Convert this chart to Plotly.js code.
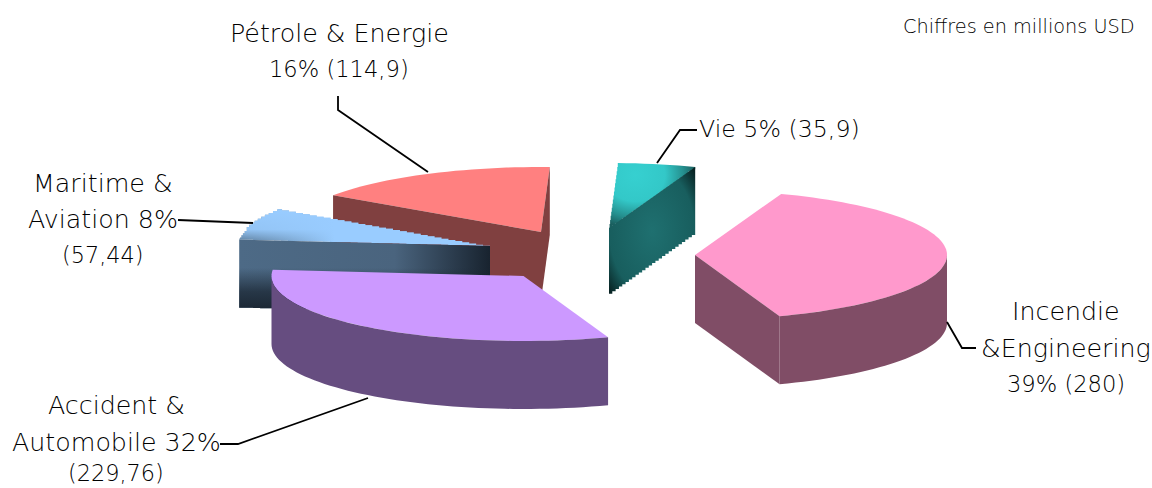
<!DOCTYPE html>
<html><head><meta charset="utf-8">
<script src="https://cdn.plot.ly/plotly-3.0.1.min.js"></script>
<style>html,body{margin:0;padding:0;background:#fff}</style></head>
<body><div id="chart" style="width:1152px;height:488px"></div>
<script>
// ---- data ----
const categories = ["Vie", "Pétrole & Energie", "Maritime & Aviation", "Accident & Automobile", "Incendie & Engineering"];
const values = [35.9, 114.9, 57.44, 229.76, 280];
const labelLines = [
  ["Vie 5% (35,9)"],
  ["Pétrole & Energie", "16% (114,9)"],
  ["Maritime &", "Aviation 8%", "(57,44)"],
  ["Accident &", "Automobile 32%", "(229,76)"],
  ["Incendie", "&Engineering", "39% (280)"]
];
const noteText = "Chiffres en millions USD";

// ---- geometry of the 3D projection (pixel space of the hidden axes) ----
const firstAngle = 70, rx = 252, ry = 65, depth = 68;
const apexX = [609, 541, 490, 523.5, 695];
const apexY = [228, 232, 246, 276, 255];
const labelX = [779.5, 339, 103, 116, 1066];
const labelY = [[129], [33, 69], [183, 219, 255], [405, 442, 473], [311, 348, 384]];
const labelSize = [[23.7], [25.3, 22.6], [25.3, 25.3, 22.4], [25.3, 25.3, 22.4], [25.3, 25.3, 22.6]];
const leaderX = [[657, 680, 697], [338, 338, 428], [178, 253], [220, 238, 368], [947, 962, 976]];
const leaderY = [[163, 130, 130], [96, 110, 172], [220, 223], [444, 444, 398], [322, 348, 348]];
const drawOrder = [1, 2, 3, 0, 4];

// ---- styles ----
const topColor = ["#33cccc", "#ff8080", "#99ccff", "#cc99ff", "#ff99cc"];
const sideColor = ["#1b6b6b", "#804040", "#4d6680", "#664d80", "#804d66"];
const stairStep = [4, 0, 7, 0, 0];
const cyanTopScale = [[0, "#36d0d0"], [0.5, "#33c8c8"], [0.8, "#25908f"], [1, "#1a5f5f"]];
const cyanSideScale = [[0, "#1f7070"], [0.7, "#185e5e"], [1, "#051a1a"]];
const blueSideScale = [[0, "#4d6a86"], [0.62, "#4a647e"], [1, "#18232f"]];
const blueFadeScale = [[0, "rgba(24,35,47,1)"], [0.3, "rgba(24,35,47,0.72)"], [0.62, "rgba(24,35,47,0)"], [1, "rgba(24,35,47,0)"]];
const blueTopScale = [[0, "#56748f"], [0.38, "#99ccff"], [1, "#99ccff"]];
const blueVeilScale = [[0, "rgba(153,204,255,0)"], [0.08, "rgba(153,204,255,0)"], [0.45, "rgba(153,204,255,0.9)"], [1, "rgba(153,204,255,1)"]];

const total = values.reduce((a, b) => a + b, 0);
const rad = d => d * Math.PI / 180;
function project(i, a, r = 1, drop = 0) {
  return [apexX[i] + rx * r * Math.cos(rad(a)), apexY[i] - ry * r * Math.sin(rad(a)) + drop];
}
function arc(i, a0, a1, drop = 0) {
  const n = Math.max(2, Math.ceil(Math.abs(a1 - a0) / 2)), out = [];
  for (let k = 0; k <= n; k++) out.push(project(i, a0 + (a1 - a0) * k / n, 1, drop));
  return out;
}
function stair(pts, step, closed = true) {
  if (!step) return pts;
  const out = [];
  pts.forEach((p, k) => {
    out.push(p);
    if (!closed && k === pts.length - 1) return;
    const q = pts[(k + 1) % pts.length];
    const dx = q[0] - p[0], dy = q[1] - p[1], len = Math.hypot(dx, dy);
    if (Math.abs(dx) < 1 || Math.abs(dy) < 1) return;
    const n = Math.max(1, Math.round(len / step));
    let prev = p;
    for (let m = 1; m <= n; m++) {
      const c = [p[0] + dx * m / n, p[1] + dy * m / n];
      out.push(Math.abs(dx) > Math.abs(dy) ? [c[0], prev[1]] : [prev[0], c[1]]);
      out.push(c);
      prev = c;
    }
  });
  return out;
}
// zero-area spikes widen the fill's bounding box, which is what places a radial gradient
function withBox(pts, box) {
  const a = pts[0];
  return [a, [box[0], box[1]], a, [box[2], box[3]]].concat(pts);
}
function poly(pts, color, grad, type) {
  const t = {
    type: "scatter", mode: "lines", x: pts.map(p => p[0]).concat(pts[0][0]), y: pts.map(p => p[1]).concat(pts[0][1]),
    fill: "toself", fillcolor: color, line: { width: 0, color: color, simplify: false }, hoverinfo: "skip"
  };
  if (grad) t.fillgradient = { type: type || "radial", colorscale: grad };
  return t;
}

const traces = [];
let acc = firstAngle;
const spans = values.map(v => { const s = [acc, acc + v / total * 360]; acc = s[1]; return s; });

drawOrder.forEach(i => {
  const [a0, a1] = spans[i];
  const ax = [apexX[i], apexY[i]], bx = [apexX[i], apexY[i] + depth];
  const topPts = stair([ax].concat(arc(i, a0, a1)), stairStep[i]);
  if (i === 0) {
    traces.push(poly(withBox(topPts, [ax[0] - 34, ax[1] - 106, ax[0] + 86, ax[1]]), topColor[i], cyanTopScale));
  } else if (i === 2) {
    traces.push(poly(topPts, topColor[i], blueTopScale, "horizontal"));
    traces.push(poly(topPts, "rgba(0,0,0,0)", blueVeilScale, "vertical"));
  } else {
    traces.push(poly(topPts, topColor[i]));
  }
  const wall = a => {
    const p = project(i, a), q = project(i, a, 1, depth);
    const pts = [ax, p].concat(stair([q, bx], stairStep[i], false));
    if (i === 0) {
      const cx = (bx[0] + p[0]) / 2, cy = (p[1] + bx[1]) / 2;
      const hw = 43 * 1.41, hh = (bx[1] - p[1]) / 2 * 1.41;
      traces.push(poly(withBox(pts, [cx - hw, cy - hh, cx + hw, cy + hh]), sideColor[i], cyanSideScale));
    } else if (i === 2) {
      traces.push(poly(pts, sideColor[i], blueSideScale, "horizontal"));
      traces.push(poly(pts, "rgba(0,0,0,0)", blueFadeScale, "vertical"));
    } else {
      traces.push(poly(pts, sideColor[i]));
    }
  };
  if (Math.cos(rad(a0)) > 0) wall(a0);
  if (Math.cos(rad(a1)) < 0) wall(a1);
  // curved outer wall: only the front half of the rim shows
  for (const [lo, hi] of [[180, 360], [540, 720]]) {
    const s = Math.max(a0, lo), e = Math.min(a1, hi);
    if (e > s) traces.push(poly(arc(i, s, e).concat(arc(i, e, s, depth)), sideColor[i]));
  }
});

leaderX.forEach((xs, i) => traces.push({
  type: "scatter", mode: "lines", x: xs, y: leaderY[i], line: { color: "#000", width: 1.8 }, hoverinfo: "skip"
}));

const family = "'DejaVu Sans', sans-serif";
const annotations = [];
labelLines.forEach((lines, i) => lines.forEach((text, k) => annotations.push({
  xref: "x", yref: "y", x: labelX[i], y: labelY[i][k], text, showarrow: false, xanchor: "center", yanchor: "middle",
  font: { family, size: labelSize[i][k], color: "#000", weight: 200 }
})));
annotations.push({ xref: "x", yref: "y", x: 1019, y: 26, text: noteText, showarrow: false, xanchor: "center", yanchor: "middle",
  font: { family, size: 19.3, color: "#000", weight: 200 } });

Plotly.newPlot("chart", traces, {
  width: 1152, height: 488, margin: { l: 0, r: 0, t: 0, b: 0 }, showlegend: false,
  paper_bgcolor: "#fff", plot_bgcolor: "#fff", hovermode: false,
  xaxis: { range: [0, 1152], visible: false, fixedrange: true },
  yaxis: { range: [488, 0], visible: false, fixedrange: true },
  annotations
}, { displayModeBar: false, staticPlot: true });
</script></body></html>
